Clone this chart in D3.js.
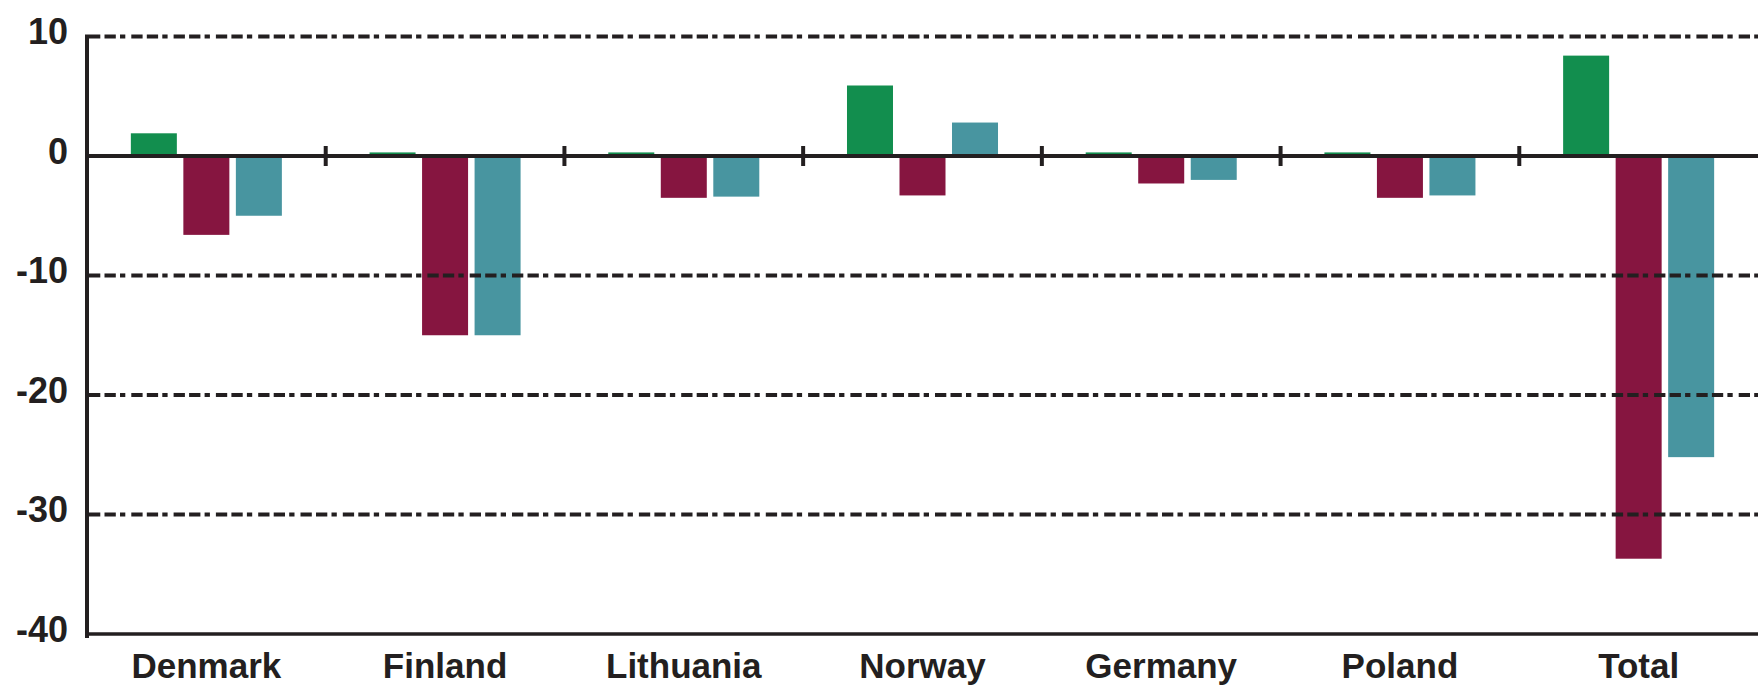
<!DOCTYPE html>
<html>
<head>
<meta charset="utf-8">
<script src="https://cdn.jsdelivr.net/npm/d3@7"></script>
<style>
  html, body { margin: 0; padding: 0; background: #ffffff; }
  svg { display: block; }
  text { font-family: "Liberation Sans", Arial, Helvetica, sans-serif; fill: #231f20; }
</style>
</head>
<body>
<svg id="chart" width="1758" height="687"></svg>
<script>
// Categories and the three series plotted for each of them
const categories = ["Denmark", "Finland", "Lithuania", "Norway", "Germany", "Poland", "Total"];
const seriesKeys = ["s1", "s2", "s3"];
const s1Values = [1.9, 0.3, 0.3, 5.9, 0.3, 0.3, 8.4];
const s2Values = [-6.6, -15, -3.5, -3.3, -2.3, -3.5, -33.7];
const s3Values = [-5.0, -15, -3.4, 2.8, -2.0, -3.3, -25.2];
const yTickValues = [10, 0, -10, -20, -30, -40];
const gridValues = [10, -10, -20, -30];

const seriesColor = { s1: "#128e4e", s2: "#861540", s3: "#4895a0" };
const ink = "#231f20";

const rows = categories.map((c, i) => ({
  category: c,
  values: [
    { key: "s1", value: s1Values[i] },
    { key: "s2", value: s2Values[i] },
    { key: "s3", value: s3Values[i] }
  ]
}));

const svg = d3.select("#chart");
const left = 87, right = 1758;

const x0 = d3.scaleBand().domain(categories).range([left, right]).padding(0);
const x1 = d3.scaleBand().domain(seriesKeys).range([0, x0.bandwidth()])
  .paddingInner(0.124).paddingOuter(0.835);
const y = d3.scaleLinear().domain([-40, 10]).range([634, 36.5]);

// Bars
const groups = svg.append("g").selectAll("g")
  .data(rows).join("g")
  .attr("transform", d => `translate(${x0(d.category)},0)`);

groups.selectAll("rect")
  .data(d => d.values).join("rect")
  .attr("x", d => x1(d.key))
  .attr("width", x1.bandwidth())
  .attr("y", d => y(Math.max(0, d.value)))
  .attr("height", d => Math.abs(y(d.value) - y(0)))
  .attr("fill", d => seriesColor[d.key]);

// Dashed gridlines, drawn over the bars
svg.append("g").selectAll("line")
  .data(gridValues).join("line")
  .attr("x1", left + 2).attr("x2", right)
  .attr("y1", d => y(d)).attr("y2", d => y(d))
  .attr("stroke", ink)
  .attr("stroke-width", 3.8)
  .attr("stroke-dasharray", "11.3,4.2,11.3,4.2,5.3,6");

// Zero line with boundary ticks between categories
svg.append("line")
  .attr("x1", left).attr("x2", right)
  .attr("y1", y(0)).attr("y2", y(0))
  .attr("stroke", ink).attr("stroke-width", 4);

svg.append("g").selectAll("line")
  .data(categories.slice(1)).join("line")
  .attr("x1", d => x0(d)).attr("x2", d => x0(d))
  .attr("y1", y(0) - 10).attr("y2", y(0) + 10)
  .attr("stroke", ink).attr("stroke-width", 4);

// Left and bottom axis lines
svg.append("line")
  .attr("x1", left).attr("x2", left)
  .attr("y1", y(10) - 2).attr("y2", y(-40) + 4)
  .attr("stroke", ink).attr("stroke-width", 4);

svg.append("line")
  .attr("x1", left - 2).attr("x2", right)
  .attr("y1", y(-40)).attr("y2", y(-40))
  .attr("stroke", ink).attr("stroke-width", 3.5);

// Y tick labels
const yAxis = d3.axisLeft(y)
  .tickValues(yTickValues)
  .tickSize(0)
  .tickPadding(0)
  .tickFormat(d => String(d));

const yg = svg.append("g").attr("transform", "translate(68,0)").call(yAxis);
yg.select(".domain").remove();
yg.selectAll("text")
  .attr("dy", null)
  .attr("y", 7)
  .attr("x", 0)
  .attr("text-anchor", "end")
  .style("font-family", "'Liberation Sans', Arial, sans-serif")
  .style("font-size", "36px")
  .style("font-weight", "bold")
  .style("fill", ink);

// Category labels
const xAxis = d3.axisBottom(x0).tickSize(0).tickPadding(0);
const xg = svg.append("g").attr("transform", "translate(0,678)").call(xAxis);
xg.select(".domain").remove();
xg.selectAll("text")
  .attr("dy", null)
  .attr("y", 0)
  .attr("text-anchor", "middle")
  .style("font-family", "'Liberation Sans', Arial, sans-serif")
  .style("font-size", "35px")
  .style("font-weight", "bold")
  .style("fill", ink);
</script>
</body>
</html>
